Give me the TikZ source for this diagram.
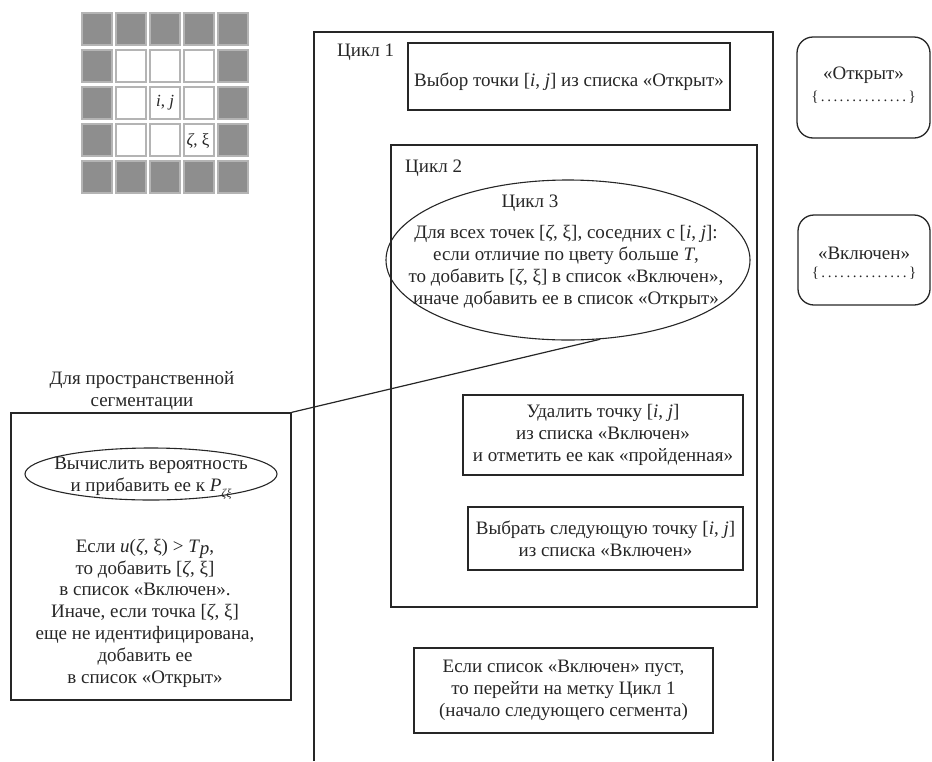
\documentclass[tikz,border=0pt]{standalone}
\usepackage{fontspec}
\setmainfont{Liberation Serif}
\usetikzlibrary{shapes.geometric}
\definecolor{txt}{HTML}{262626}
\definecolor{ln}{HTML}{262626}
\definecolor{cellgray}{HTML}{8E8E8E}
\definecolor{cellborder}{HTML}{B4B4B4}
\begin{document}
\begin{tikzpicture}[x=1pt,y=-1pt,
  every node/.style={font=\fontsize{19}{21.8}\selectfont, text=txt},
  frame/.style={draw=ln, line width=1.3pt},
  box/.style={frame, rectangle, inner sep=0pt, align=center},
  rbox/.style={frame, rectangle, rounded corners=16pt, inner sep=0pt, align=center},
  oval/.style={draw=ln, line width=1.1pt, ellipse, inner sep=0pt},
  lbl/.style={align=center, inner sep=0pt}]
\useasboundingbox (0,0) rectangle (932,761);
% grid
\foreach \c in {0,...,4}{\foreach \r in {0,...,4}{
  \filldraw[fill=cellgray, draw=cellborder, line width=1.2pt] (82+34*\c,13+37*\r) rectangle ++(30,32);}}
\foreach \c in {1,...,3}{\foreach \r in {1,...,3}{
  \filldraw[fill=white, draw=cellborder, line width=1.2pt] (82+34*\c,13+37*\r) rectangle ++(30,32);}}
\node[lbl, font=\fontsize{17}{19}\selectfont] (ij) at (165,103) {\textit{i}, \textit{j}};
\node[lbl, font=\fontsize{17}{19}\selectfont] (zx) at (198,141) {\textit{ζ}, ξ};
% cycle 1 frame
\draw[frame] (314,761) -- (314,32) -- (773,32) -- (773,761);
\node[lbl, anchor=west] (c1) at (337,52) {Цикл 1};
\node[box, minimum width=322pt, minimum height=67pt] (sel) at (569,76.5) {};
\node[lbl] (selt) at (569,82) {Выбор точки [\textit{i}, \textit{j}] из списка «Открыт»};
% cycle 2
\node[box, minimum width=366pt, minimum height=462pt] (cyc2) at (574,376) {};
\node[lbl, anchor=west] (c2) at (405,168) {Цикл 2};
\node[oval, minimum width=364pt, minimum height=160pt] (cyc3) at (568,260) {};
\node[lbl] (c3) at (530,203) {Цикл 3};
\node[lbl] (c3t) at (566,267) {Для всех точек [\textit{ζ}, ξ], соседних с [\textit{i}, \textit{j}]:\\
если отличие по цвету больше \textit{T},\\
то добавить [\textit{ζ}, ξ] в список «Включен»,\\
иначе добавить ее в список «Открыт»};
\node[box, minimum width=280pt, minimum height=80pt] (del) at (603,435) {Удалить точку [\textit{i}, \textit{j}]\\из списка «Включен»\\и отметить ее как «пройденная»};
\node[box, minimum width=275pt, minimum height=63pt] (nxt) at (605.5,538.5) {Выбрать следующую точку [\textit{i}, \textit{j}]\\из списка «Включен»};
\node[box, minimum width=299pt, minimum height=85pt] (emp) at (563.5,690.5) {Если список «Включен» пуст,\\то перейти на метку Цикл 1\\(начало следующего сегмента)};
% right lists
\node[rbox, minimum width=133pt, minimum height=101pt] (open) at (863.5,87.5) {};
\node[lbl] (opent) at (863.5,75) {«Открыт»};
\node[lbl, font=\fontsize{15}{16}\selectfont] (openb) at (863.5,97) {\{\,.\,.\,.\,.\,.\,.\,.\,.\,.\,.\,.\,.\,.\,.\,\}};
\node[rbox, minimum width=132pt, minimum height=90pt] (incl) at (864,260) {};
\node[lbl] (inclt) at (864,253) {«Включен»};
\node[lbl, font=\fontsize{15}{16}\selectfont] (inclb) at (864,273) {\{\,.\,.\,.\,.\,.\,.\,.\,.\,.\,.\,.\,.\,.\,.\,\}};
% left part
\node[lbl] (sp) at (142,391) {Для пространственной\\сегментации};
\node[box, minimum width=280pt, minimum height=287pt] (lbox) at (151,556.5) {};
\node[oval, minimum width=252pt, minimum height=52pt] (prob) at (151,474) {};
\node[lbl] (probt) at (151,478) {Вычислить вероятность\\и прибавить ее к \textit{P}\raisebox{-0.7ex}{\fontsize{12}{13}\selectfont\textit{ζξ}}};
\node[lbl] (cond) at (145,613) {Если \textit{u}(\textit{ζ}, ξ) \textgreater{} \textit{T}\raisebox{-0.3ex}{\textit{p}},\\
то добавить [\textit{ζ}, ξ]\\
в список «Включен».\\
Иначе, если точка [\textit{ζ}, ξ]\\
еще не идентифицирована,\\
добавить ее\\
в список «Открыт»};
% connector
\draw[frame, line width=1.2pt] (lbox.north east) -- (cyc3.-68);
\end{tikzpicture}
\end{document}
